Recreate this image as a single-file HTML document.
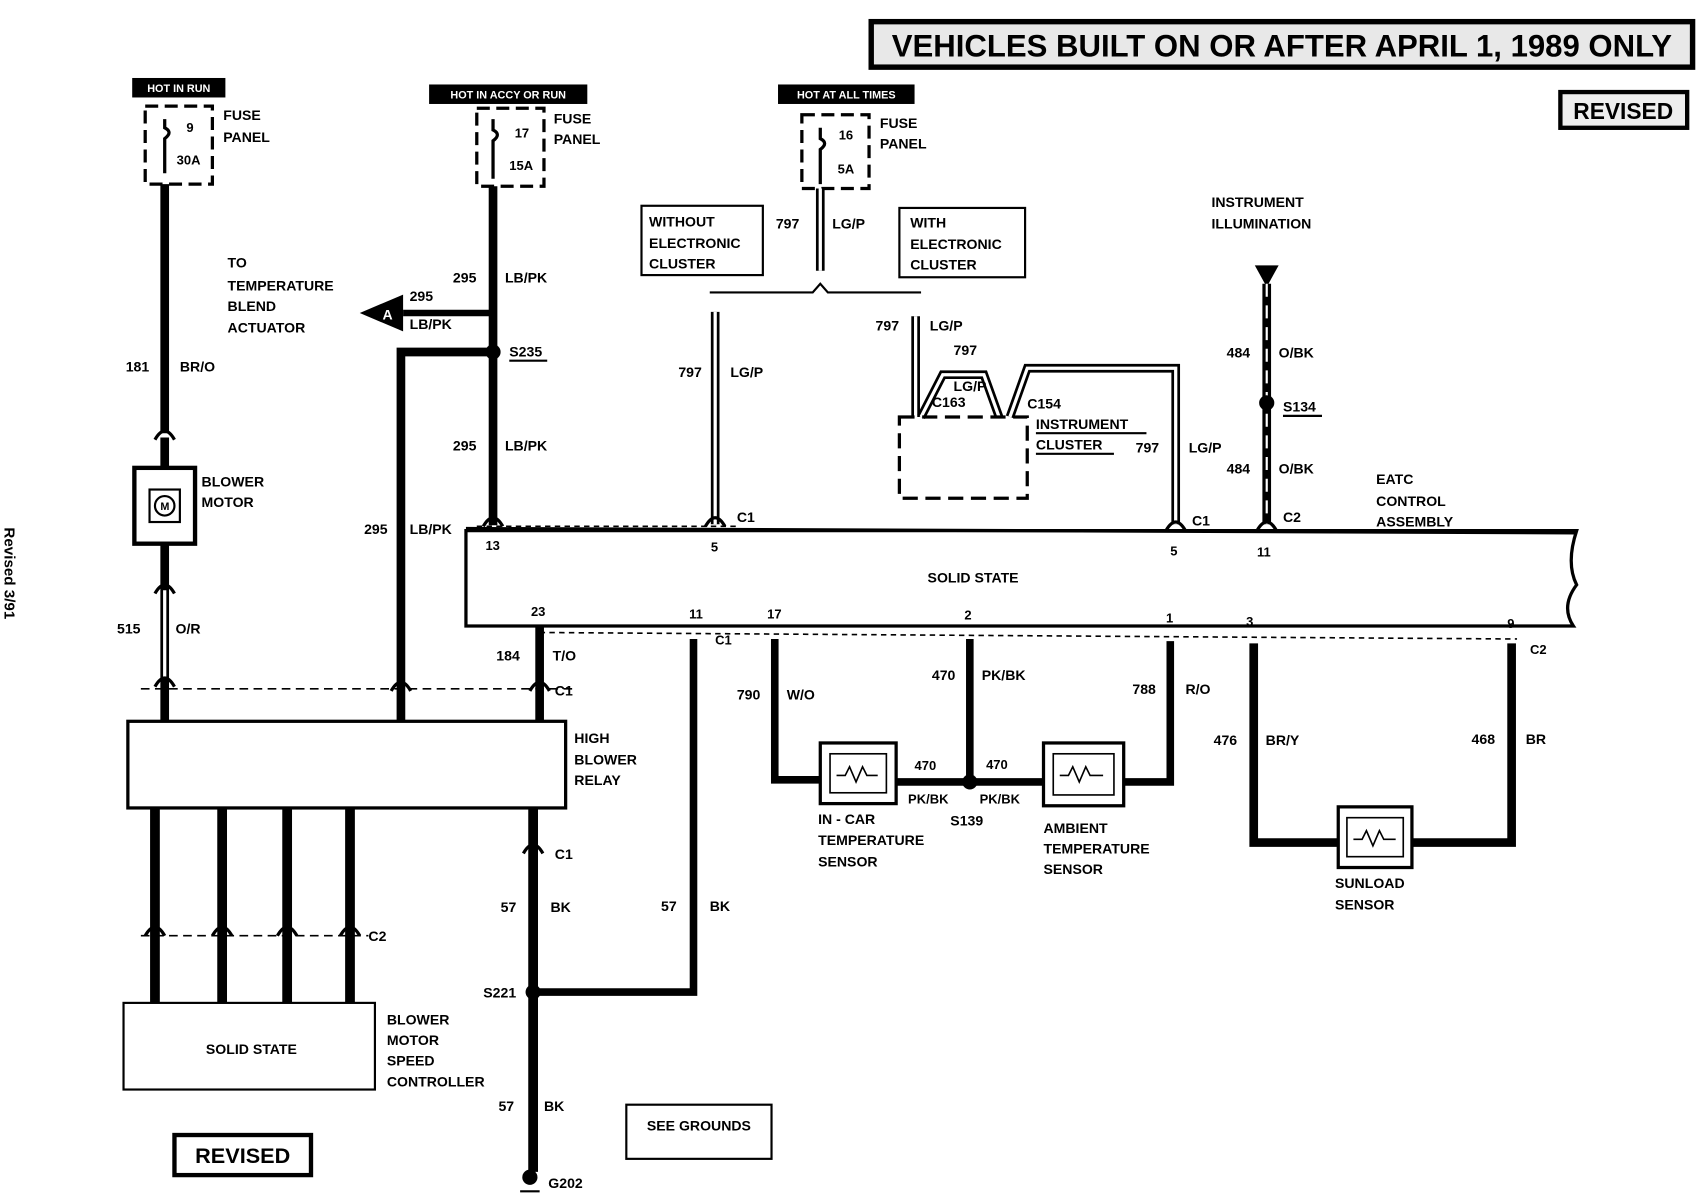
<!DOCTYPE html>
<html><head><meta charset="utf-8"><style>
html,body{margin:0;padding:0;background:#fff;}
svg{display:block;}
text{font-family:"Liberation Sans",sans-serif;font-weight:bold;fill:#000;}
</style></head><body>
<svg width="1698" height="1200" viewBox="0 0 1567 1108" preserveAspectRatio="none" xmlns="http://www.w3.org/2000/svg">
<defs>
<g id="arch"><path d="M-9,6 Q0,-10 9,6" fill="none" stroke="#000" stroke-width="3"/></g>
</defs>
<!-- title -->
<rect x="804" y="20" width="758" height="42" fill="#e8e8e8" stroke="#000" stroke-width="5"/>
<text x="1183" y="52" font-size="29" text-anchor="middle" textLength="720" lengthAdjust="spacingAndGlyphs">VEHICLES BUILT ON OR AFTER APRIL 1, 1989 ONLY</text>
<rect x="1440" y="85" width="117" height="33" fill="#eee" stroke="#000" stroke-width="4"/>
<text x="1498" y="110" font-size="21" text-anchor="middle">REVISED</text>
<text transform="translate(4,487) rotate(90)" font-size="14" font-weight="normal">Revised 3/91</text>

<!-- fuse 1 -->
<rect x="122" y="72" width="86" height="18" fill="#000"/>
<text x="165" y="85" font-size="10" text-anchor="middle" style="fill:#fff">HOT IN RUN</text>
<rect x="134" y="98" width="62" height="72" fill="none" stroke="#000" stroke-width="3" stroke-dasharray="12,6"/>
<text x="172" y="122" font-size="12">9</text><text x="163" y="152" font-size="12">30A</text>
<text x="206" y="111" font-size="13">FUSE</text><text x="206" y="131" font-size="13">PANEL</text>
<path d="M152,110 L152,118 Q160,122 152,128 L152,160" fill="none" stroke="#000" stroke-width="3"/>
<!-- wire 181 -->
<line x1="152" y1="170" x2="152" y2="400" stroke="#000" stroke-width="8"/>
<text x="116" y="343" font-size="13">181</text><text x="166" y="343" font-size="13">BR/O</text>
<line x1="152" y1="404" x2="152" y2="432" stroke="#000" stroke-width="8"/>
<rect x="124" y="432" width="56" height="70" fill="#fff" stroke="#000" stroke-width="4"/>
<rect x="138" y="452" width="28" height="30" fill="none" stroke="#000" stroke-width="2"/>
<circle cx="152" cy="467" r="9" fill="none" stroke="#000" stroke-width="2"/>
<text x="148" y="471" font-size="10">M</text>
<text x="186" y="449" font-size="13">BLOWER</text><text x="186" y="468" font-size="13">MOTOR</text>
<line x1="152" y1="502" x2="152" y2="665" stroke="#000" stroke-width="8"/>
<line x1="152" y1="545" x2="152" y2="625" stroke="#fff" stroke-width="3"/>
<text x="108" y="585" font-size="13">515</text><text x="162" y="585" font-size="13">O/R</text>

<!-- fuse 2 -->
<rect x="396" y="78" width="146" height="18" fill="#000"/>
<text x="469" y="91" font-size="10" text-anchor="middle" style="fill:#fff">HOT IN ACCY OR RUN</text>
<rect x="440" y="100" width="62" height="72" fill="none" stroke="#000" stroke-width="3" stroke-dasharray="12,6"/>
<text x="475" y="127" font-size="12">17</text><text x="470" y="157" font-size="12">15A</text>
<text x="511" y="114" font-size="13">FUSE</text><text x="511" y="133" font-size="13">PANEL</text>
<path d="M455,110 L455,120 Q463,124 455,130 L455,165" fill="none" stroke="#000" stroke-width="3"/>
<line x1="455" y1="172" x2="455" y2="485" stroke="#000" stroke-width="8"/>
<text x="418" y="261" font-size="13">295</text><text x="466" y="261" font-size="13">LB/PK</text>
<text x="418" y="416" font-size="13">295</text><text x="466" y="416" font-size="13">LB/PK</text>
<polyline points="455,289 372,289" fill="none" stroke="#000" stroke-width="6"/>
<polygon points="332,289 372,272 372,306" fill="#000"/>
<text x="353" y="295" font-size="13" style="fill:#fff">A</text>
<text x="378" y="278" font-size="13">295</text><text x="378" y="304" font-size="13">LB/PK</text>
<text x="210" y="247" font-size="13">TO</text><text x="210" y="268" font-size="13">TEMPERATURE</text>
<text x="210" y="287" font-size="13">BLEND</text><text x="210" y="307" font-size="13">ACTUATOR</text>
<circle cx="455" cy="325" r="7" fill="#000"/>
<text x="470" y="329" font-size="13">S235</text><line x1="470" y1="333" x2="505" y2="333" stroke="#000" stroke-width="2"/>
<polyline points="455,325 370,325 370,665" fill="none" stroke="#000" stroke-width="8"/>
<text x="336" y="493" font-size="13">295</text><text x="378" y="493" font-size="13">LB/PK</text>

<!-- fuse 3 -->
<rect x="718" y="78" width="126" height="18" fill="#000"/>
<text x="781" y="91" font-size="10" text-anchor="middle" style="fill:#fff">HOT AT ALL TIMES</text>
<rect x="740" y="106" width="62" height="68" fill="none" stroke="#000" stroke-width="3" stroke-dasharray="12,6"/>
<text x="774" y="129" font-size="12">16</text><text x="773" y="160" font-size="12">5A</text>
<text x="812" y="118" font-size="13">FUSE</text><text x="812" y="137" font-size="13">PANEL</text>
<path d="M757,118 L757,128 Q765,132 757,138 L757,170" fill="none" stroke="#000" stroke-width="3"/>
<line x1="757" y1="174" x2="757" y2="250" stroke="#000" stroke-width="8"/>
<line x1="757" y1="174" x2="757" y2="250" stroke="#fff" stroke-width="3"/>
<text x="716" y="211" font-size="13">797</text><text x="768" y="211" font-size="13">LG/P</text>
<path d="M655,270 L750,270 L757,262 L764,270 L850,270" fill="none" stroke="#000" stroke-width="2"/>
<rect x="592" y="190" width="112" height="64" fill="none" stroke="#000" stroke-width="2"/>
<text x="599" y="209" font-size="13">WITHOUT</text><text x="599" y="229" font-size="13">ELECTRONIC</text><text x="599" y="248" font-size="13">CLUSTER</text>
<rect x="830" y="192" width="116" height="64" fill="none" stroke="#000" stroke-width="2"/>
<text x="840" y="210" font-size="13">WITH</text><text x="840" y="230" font-size="13">ELECTRONIC</text><text x="840" y="249" font-size="13">CLUSTER</text>
<line x1="660" y1="288" x2="660" y2="484" stroke="#000" stroke-width="8"/>
<line x1="660" y1="288" x2="660" y2="484" stroke="#fff" stroke-width="3"/>
<text x="626" y="348" font-size="13">797</text><text x="674" y="348" font-size="13">LG/P</text>
<!-- with cluster -->
<line x1="845" y1="292" x2="845" y2="385" stroke="#000" stroke-width="8"/>
<line x1="845" y1="292" x2="845" y2="385" stroke="#fff" stroke-width="3"/>
<text x="808" y="305" font-size="13">797</text><text x="858" y="305" font-size="13">LG/P</text>
<polyline points="850,385 870,346 908,346 922,385" fill="none" stroke="#000" stroke-width="8"/>
<polyline points="850,385 870,346 908,346 922,385" fill="none" stroke="#fff" stroke-width="3"/>
<polyline points="932,385 948,340 1085,340 1085,484" fill="none" stroke="#000" stroke-width="8"/>
<polyline points="932,385 948,340 1085,340 1085,484" fill="none" stroke="#fff" stroke-width="3"/>
<text x="880" y="328" font-size="13">797</text><text x="880" y="361" font-size="13">LG/P</text>
<text x="860" y="376" font-size="13">C163</text><text x="948" y="377" font-size="13">C154</text>
<rect x="830" y="385" width="118" height="75" fill="none" stroke="#000" stroke-width="3" stroke-dasharray="14,7"/>
<text x="956" y="396" font-size="13">INSTRUMENT</text><line x1="956" y1="400" x2="1058" y2="400" stroke="#000" stroke-width="2"/>
<text x="956" y="415" font-size="13">CLUSTER</text><line x1="956" y1="419" x2="1028" y2="419" stroke="#000" stroke-width="2"/>
<text x="1048" y="418" font-size="13">797</text><text x="1097" y="418" font-size="13">LG/P</text>
<!-- illumination -->
<text x="1118" y="191" font-size="13">INSTRUMENT</text><text x="1118" y="211" font-size="13">ILLUMINATION</text>
<polygon points="1158,245 1180,245 1169,265" fill="#000"/>
<line x1="1169" y1="262" x2="1169" y2="484" stroke="#000" stroke-width="8"/>
<line x1="1169" y1="262" x2="1169" y2="484" stroke="#fff" stroke-width="2" stroke-dasharray="12,8"/>
<circle cx="1169" cy="372" r="7" fill="#000"/>
<text x="1184" y="380" font-size="13">S134</text><line x1="1184" y1="384" x2="1220" y2="384" stroke="#000" stroke-width="2"/>
<text x="1132" y="330" font-size="13">484</text><text x="1180" y="330" font-size="13">O/BK</text>
<text x="1132" y="437" font-size="13">484</text><text x="1180" y="437" font-size="13">O/BK</text>
<text x="1270" y="447" font-size="13">EATC</text><text x="1270" y="467" font-size="13">CONTROL</text><text x="1270" y="486" font-size="13">ASSEMBLY</text>

<!-- main EATC box -->
<path d="M430,490 L1455,490 Q1445,520 1455,540 Q1440,560 1452,578 L430,578 Z" fill="#fff" stroke="#000" stroke-width="3"/>
<line x1="430" y1="488" x2="1455" y2="492" stroke="#000" stroke-width="3"/>
<text x="898" y="538" font-size="13" text-anchor="middle">SOLID STATE</text>
<text x="448" y="508" font-size="12">13</text><text x="656" y="509" font-size="12">5</text>
<text x="1080" y="513" font-size="12">5</text><text x="1160" y="514" font-size="12">11</text>
<text x="680" y="482" font-size="13">C1</text><text x="1100" y="485" font-size="13">C1</text><text x="1184" y="482" font-size="13">C2</text>
<text x="490" y="569" font-size="12">23</text><text x="636" y="571" font-size="12">11</text>
<text x="708" y="571" font-size="12">17</text><text x="890" y="572" font-size="12">2</text>
<text x="1076" y="575" font-size="12">1</text><text x="1150" y="578" font-size="12">3</text><text x="1391" y="580" font-size="12">9</text>
<line x1="498" y1="584" x2="1400" y2="590" stroke="#000" stroke-width="1.5" stroke-dasharray="5,4"/>
<text x="660" y="595" font-size="12">C1</text><text x="1412" y="604" font-size="12">C2</text>
<line x1="440" y1="486" x2="680" y2="486" stroke="#000" stroke-width="1.5" stroke-dasharray="5,4"/>

<!-- bottom left wires -->
<line x1="498" y1="578" x2="498" y2="665" stroke="#000" stroke-width="8"/>
<text x="458" y="610" font-size="13">184</text><text x="510" y="610" font-size="13">T/O</text>
<text x="512" y="642" font-size="13">C1</text>
<line x1="130" y1="636" x2="530" y2="636" stroke="#000" stroke-width="1.5" stroke-dasharray="8,5"/>
<rect x="118" y="666" width="404" height="80" fill="#fff" stroke="#000" stroke-width="3"/>
<text x="530" y="686" font-size="13">HIGH</text><text x="530" y="706" font-size="13">BLOWER</text><text x="530" y="725" font-size="13">RELAY</text>
<g stroke="#000" stroke-width="9">
<line x1="143" y1="746" x2="143" y2="926"/><line x1="205" y1="746" x2="205" y2="926"/>
<line x1="265" y1="746" x2="265" y2="926"/><line x1="323" y1="746" x2="323" y2="926"/>
</g>
<line x1="130" y1="864" x2="340" y2="864" stroke="#000" stroke-width="1.5" stroke-dasharray="8,5"/>
<text x="340" y="869" font-size="13">C2</text>
<rect x="114" y="926" width="232" height="80" fill="#fff" stroke="#000" stroke-width="2"/>
<text x="232" y="973" font-size="13" text-anchor="middle">SOLID STATE</text>
<text x="357" y="946" font-size="13">BLOWER</text><text x="357" y="965" font-size="13">MOTOR</text>
<text x="357" y="984" font-size="13">SPEED</text><text x="357" y="1003" font-size="13">CONTROLLER</text>
<line x1="492" y1="746" x2="492" y2="1082" stroke="#000" stroke-width="9"/>
<text x="512" y="793" font-size="13">C1</text>
<text x="462" y="842" font-size="13">57</text><text x="508" y="842" font-size="13">BK</text>
<circle cx="492" cy="916" r="7" fill="#000"/>
<text x="446" y="921" font-size="13">S221</text>
<polyline points="492,916 640,916 640,590" fill="none" stroke="#000" stroke-width="7"/>
<text x="610" y="841" font-size="13">57</text><text x="655" y="841" font-size="13">BK</text>
<text x="460" y="1026" font-size="13">57</text><text x="502" y="1026" font-size="13">BK</text>
<circle cx="489" cy="1087" r="7" fill="#000"/>
<line x1="480" y1="1100" x2="498" y2="1100" stroke="#000" stroke-width="2"/>
<text x="506" y="1097" font-size="13">G202</text>
<rect x="578" y="1020" width="134" height="50" fill="none" stroke="#000" stroke-width="2"/>
<text x="645" y="1044" font-size="13" text-anchor="middle">SEE GROUNDS</text>
<rect x="161" y="1048" width="126" height="37" fill="none" stroke="#000" stroke-width="4"/>
<text x="224" y="1074" font-size="20" text-anchor="middle">REVISED</text>

<!-- sensors -->
<polyline points="715,590 715,720 757,720" fill="none" stroke="#000" stroke-width="7"/>
<text x="680" y="646" font-size="13">790</text><text x="726" y="646" font-size="13">W/O</text>
<rect x="757" y="686" width="70" height="56" fill="#fff" stroke="#000" stroke-width="3"/>
<rect x="766" y="696" width="52" height="36" fill="none" stroke="#000" stroke-width="1.5"/>
<polyline points="772,716 780,716 784,708 790,722 796,708 800,716 810,716" fill="none" stroke="#000" stroke-width="1.5"/>
<text x="755" y="761" font-size="13">IN - CAR</text><text x="755" y="780" font-size="13">TEMPERATURE</text><text x="755" y="800" font-size="13">SENSOR</text>
<line x1="895" y1="590" x2="895" y2="722" stroke="#000" stroke-width="7"/>
<line x1="827" y1="722" x2="963" y2="722" stroke="#000" stroke-width="7"/>
<circle cx="895" cy="722" r="7" fill="#000"/>
<text x="860" y="628" font-size="13">470</text><text x="906" y="628" font-size="13">PK/BK</text>
<text x="844" y="711" font-size="12">470</text><text x="910" y="710" font-size="12">470</text>
<text x="838" y="742" font-size="12">PK/BK</text><text x="904" y="742" font-size="12">PK/BK</text>
<text x="877" y="762" font-size="13">S139</text>
<polyline points="1080,592 1080,722 1037,722" fill="none" stroke="#000" stroke-width="7"/>
<text x="1045" y="641" font-size="13">788</text><text x="1094" y="641" font-size="13">R/O</text>
<rect x="963" y="686" width="74" height="58" fill="#fff" stroke="#000" stroke-width="3"/>
<rect x="972" y="696" width="56" height="38" fill="none" stroke="#000" stroke-width="1.5"/>
<polyline points="978,716 986,716 990,708 996,722 1002,708 1006,716 1018,716" fill="none" stroke="#000" stroke-width="1.5"/>
<text x="963" y="769" font-size="13">AMBIENT</text><text x="963" y="788" font-size="13">TEMPERATURE</text><text x="963" y="807" font-size="13">SENSOR</text>
<polyline points="1157,594 1157,778 1235,778" fill="none" stroke="#000" stroke-width="8"/>
<polyline points="1395,594 1395,778 1303,778" fill="none" stroke="#000" stroke-width="8"/>
<text x="1120" y="688" font-size="13">476</text><text x="1168" y="688" font-size="13">BR/Y</text>
<text x="1358" y="687" font-size="13">468</text><text x="1408" y="687" font-size="13">BR</text>
<rect x="1235" y="745" width="68" height="56" fill="#fff" stroke="#000" stroke-width="3"/>
<rect x="1243" y="755" width="52" height="36" fill="none" stroke="#000" stroke-width="1.5"/>
<polyline points="1249,775 1257,775 1261,767 1267,781 1273,767 1277,775 1288,775" fill="none" stroke="#000" stroke-width="1.5"/>
<text x="1232" y="820" font-size="13">SUNLOAD</text><text x="1232" y="840" font-size="13">SENSOR</text>

<!-- connector arches -->
<g>
<use href="#arch" x="152" y="400"/><use href="#arch" x="152" y="542"/><use href="#arch" x="152" y="628"/>
<use href="#arch" x="370" y="632"/><use href="#arch" x="498" y="632"/><use href="#arch" x="492" y="782"/>
<use href="#arch" x="455" y="480"/><use href="#arch" x="660" y="480"/><use href="#arch" x="1085" y="484"/><use href="#arch" x="1169" y="484"/>
<use href="#arch" x="143" y="858"/><use href="#arch" x="205" y="858"/><use href="#arch" x="265" y="858"/><use href="#arch" x="323" y="858"/>
</g>
</svg>
</body></html>
